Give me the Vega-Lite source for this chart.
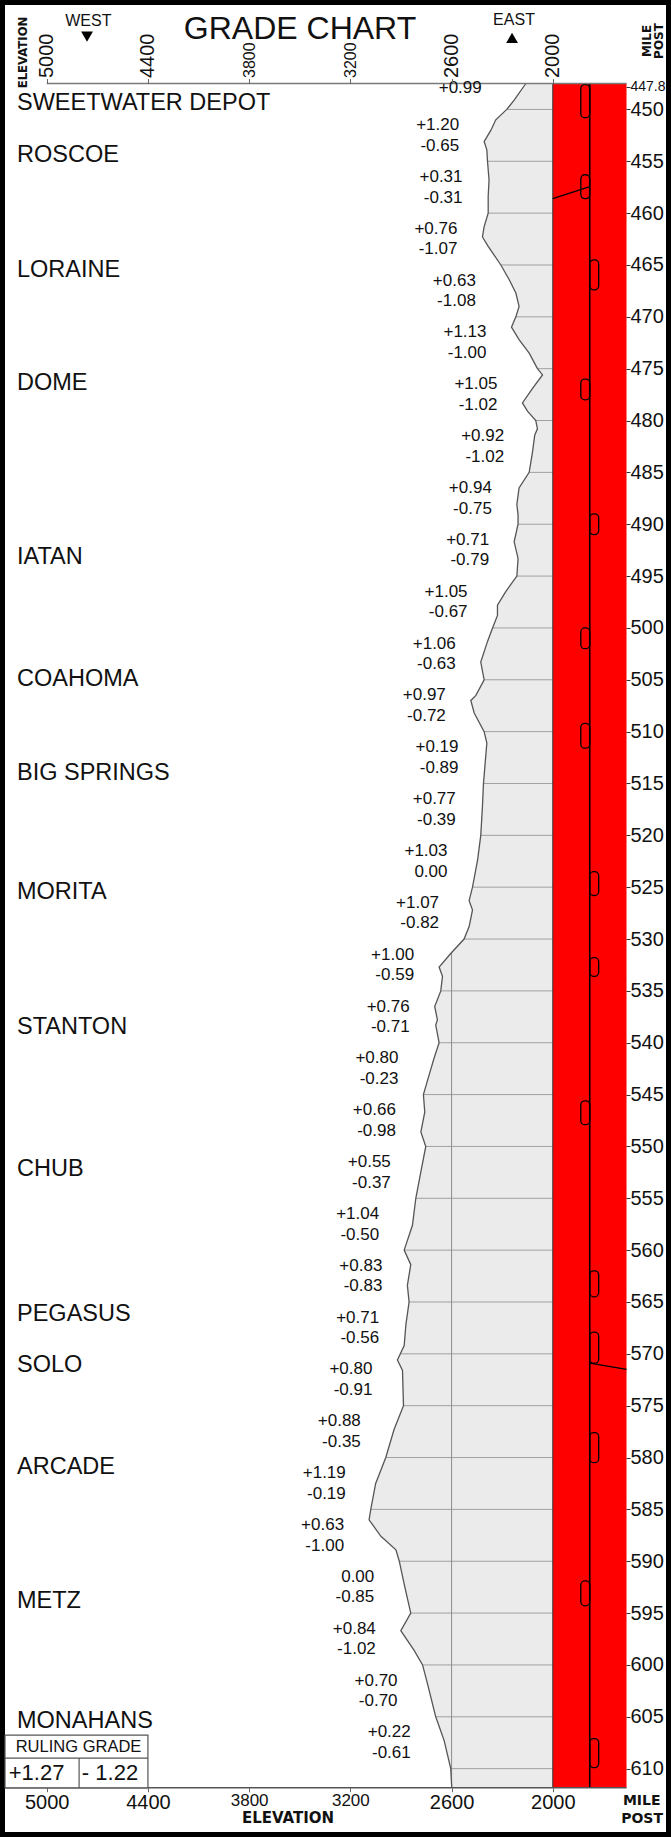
{
"$schema": "https://vega.github.io/schema/vega-lite/v6.json",
"width": 661, "height": 1827, "padding": 5, "autosize": {"type": "none"},
"background": "#000000",
"config": {"view": {"fill": "#ffffff", "stroke": null}, "font": "Liberation Sans", "text": {"color": "#111111"}},
"resolve": {"axis": {"x": "independent", "y": "independent"}},
"datasets": {
"profile": [
{"mile":447.5,"elev":2160},{"mile":449.1,"elev":2229},{"mile":450,"elev":2273},{"mile":451.0,"elev":2338},{"mile":452.0,"elev":2367},{"mile":453.1,"elev":2407},{"mile":453.9,"elev":2391},{"mile":455,"elev":2387},{"mile":456.8,"elev":2378},{"mile":458.4,"elev":2383},{"mile":460,"elev":2383},{"mile":461.3,"elev":2407},{"mile":462.3,"elev":2417},{"mile":463.2,"elev":2383},{"mile":465,"elev":2308},{"mile":466.4,"elev":2259},{"mile":467.7,"elev":2219},{"mile":469.0,"elev":2200},{"mile":470,"elev":2219},{"mile":471.0,"elev":2245},{"mile":472.2,"elev":2200},{"mile":473.5,"elev":2140},{"mile":475,"elev":2091},{"mile":475.6,"elev":2061},{"mile":476.9,"elev":2120},{"mile":478.3,"elev":2180},{"mile":479.1,"elev":2150},{"mile":480,"elev":2101},{"mile":480.8,"elev":2091},{"mile":481.4,"elev":2107},{"mile":483.0,"elev":2120},{"mile":485,"elev":2140},{"mile":486.5,"elev":2200},{"mile":488.1,"elev":2213},{"mile":489.1,"elev":2206},{"mile":490,"elev":2206},{"mile":491.7,"elev":2229},{"mile":493.3,"elev":2206},{"mile":495,"elev":2213},{"mile":496.5,"elev":2279},{"mile":497.8,"elev":2328},{"mile":498.8,"elev":2328},{"mile":500,"elev":2357},{"mile":501.3,"elev":2387},{"mile":503.3,"elev":2427},{"mile":505,"elev":2407},{"mile":506.5,"elev":2456},{"mile":507.0,"elev":2486},{"mile":508.2,"elev":2466},{"mile":510,"elev":2407},{"mile":511.1,"elev":2391},{"mile":515,"elev":2411},{"mile":517.2,"elev":2417},{"mile":520,"elev":2427},{"mile":522.4,"elev":2446},{"mile":525,"elev":2476},{"mile":526.3,"elev":2496},{"mile":527.2,"elev":2476},{"mile":528.8,"elev":2496},{"mile":530,"elev":2526},{"mile":531.4,"elev":2605},{"mile":532.7,"elev":2674},{"mile":533.6,"elev":2654},{"mile":535,"elev":2664},{"mile":536.5,"elev":2700},{"mile":537.8,"elev":2684},{"mile":538.3,"elev":2694},{"mile":540,"elev":2674},{"mile":541.5,"elev":2704},{"mile":543.1,"elev":2733},{"mile":545,"elev":2767},{"mile":546.7,"elev":2759},{"mile":548.6,"elev":2782},{"mile":550,"elev":2753},{"mile":552.1,"elev":2778},{"mile":555,"elev":2812},{"mile":557.6,"elev":2832},{"mile":560,"elev":2881},{"mile":561.4,"elev":2842},{"mile":563.4,"elev":2862},{"mile":565,"elev":2852},{"mile":567.2,"elev":2871},{"mile":569.2,"elev":2881},{"mile":570.6,"elev":2921},{"mile":571.6,"elev":2891},{"mile":575,"elev":2885},{"mile":577.3,"elev":2941},{"mile":580,"elev":2990},{"mile":582.5,"elev":3050},{"mile":585,"elev":3079},{"mile":586.0,"elev":3089},{"mile":587.6,"elev":3019},{"mile":588.9,"elev":2930},{"mile":590,"elev":2910},{"mile":592.2,"elev":2881},{"mile":595,"elev":2842},{"mile":596.7,"elev":2901},{"mile":598.6,"elev":2822},{"mile":600,"elev":2772},{"mile":601.8,"elev":2743},{"mile":605,"elev":2694},{"mile":607.3,"elev":2644},{"mile":610,"elev":2605},{"mile":611.85,"elev":2599}
],
"grades": [
{"from":447.8,"to":450,"mid":448.9,"up":"+0.99","down":"","summit":2273},
{"from":450,"to":455,"mid":452.5,"up":"+1.20","down":"-0.65","summit":2407},
{"from":455,"to":460,"mid":457.5,"up":"+0.31","down":"-0.31","summit":2387},
{"from":460,"to":465,"mid":462.5,"up":"+0.76","down":"-1.07","summit":2417},
{"from":465,"to":470,"mid":467.5,"up":"+0.63","down":"-1.08","summit":2308},
{"from":470,"to":475,"mid":472.5,"up":"+1.13","down":"-1.00","summit":2245},
{"from":475,"to":480,"mid":477.5,"up":"+1.05","down":"-1.02","summit":2180},
{"from":480,"to":485,"mid":482.5,"up":"+0.92","down":"-1.02","summit":2140},
{"from":485,"to":490,"mid":487.5,"up":"+0.94","down":"-0.75","summit":2213},
{"from":490,"to":495,"mid":492.5,"up":"+0.71","down":"-0.79","summit":2229},
{"from":495,"to":500,"mid":497.5,"up":"+1.05","down":"-0.67","summit":2357},
{"from":500,"to":505,"mid":502.5,"up":"+1.06","down":"-0.63","summit":2427},
{"from":505,"to":510,"mid":507.5,"up":"+0.97","down":"-0.72","summit":2486},
{"from":510,"to":515,"mid":512.5,"up":"+0.19","down":"-0.89","summit":2411},
{"from":515,"to":520,"mid":517.5,"up":"+0.77","down":"-0.39","summit":2427},
{"from":520,"to":525,"mid":522.5,"up":"+1.03","down":"0.00","summit":2476},
{"from":525,"to":530,"mid":527.5,"up":"+1.07","down":"-0.82","summit":2526},
{"from":530,"to":535,"mid":532.5,"up":"+1.00","down":"-0.59","summit":2674},
{"from":535,"to":540,"mid":537.5,"up":"+0.76","down":"-0.71","summit":2700},
{"from":540,"to":545,"mid":542.5,"up":"+0.80","down":"-0.23","summit":2767},
{"from":545,"to":550,"mid":547.5,"up":"+0.66","down":"-0.98","summit":2782},
{"from":550,"to":555,"mid":552.5,"up":"+0.55","down":"-0.37","summit":2812},
{"from":555,"to":560,"mid":557.5,"up":"+1.04","down":"-0.50","summit":2881},
{"from":560,"to":565,"mid":562.5,"up":"+0.83","down":"-0.83","summit":2862},
{"from":565,"to":570,"mid":567.5,"up":"+0.71","down":"-0.56","summit":2881},
{"from":570,"to":575,"mid":572.5,"up":"+0.80","down":"-0.91","summit":2921},
{"from":575,"to":580,"mid":577.5,"up":"+0.88","down":"-0.35","summit":2990},
{"from":580,"to":585,"mid":582.5,"up":"+1.19","down":"-0.19","summit":3079},
{"from":585,"to":590,"mid":587.5,"up":"+0.63","down":"-1.00","summit":3089},
{"from":590,"to":595,"mid":592.5,"up":"0.00","down":"-0.85","summit":2910},
{"from":595,"to":600,"mid":597.5,"up":"+0.84","down":"-1.02","summit":2901},
{"from":600,"to":605,"mid":602.5,"up":"+0.70","down":"-0.70","summit":2772},
{"from":605,"to":610,"mid":607.5,"up":"+0.22","down":"-0.61","summit":2694}
],
"stations": [
{"name":"SWEETWATER DEPOT","mile":449.4},{"name":"ROSCOE","mile":454.4},{"name":"LORAINE","mile":465.5},{"name":"DOME","mile":476.4},{"name":"IATAN","mile":493.2},{"name":"COAHOMA","mile":504.9},{"name":"BIG SPRINGS","mile":514.0},{"name":"MORITA","mile":525.5},{"name":"STANTON","mile":538.5},{"name":"CHUB","mile":552.2},{"name":"PEGASUS","mile":566.2},{"name":"SOLO","mile":571.1},{"name":"ARCADE","mile":580.9},{"name":"METZ","mile":593.8},{"name":"MONAHANS","mile":605.4}
],
"grid": [
{"mile":450},{"mile":455},{"mile":460},{"mile":465},{"mile":470},{"mile":475},{"mile":480},{"mile":485},{"mile":490},{"mile":495},{"mile":500},{"mile":505},{"mile":510},{"mile":515},{"mile":520},{"mile":525},{"mile":530},{"mile":535},{"mile":540},{"mile":545},{"mile":550},{"mile":555},{"mile":560},{"mile":565},{"mile":570},{"mile":575},{"mile":580},{"mile":585},{"mile":590},{"mile":595},{"mile":600},{"mile":605},{"mile":610}
],
"vgrid": [{"elev":4400},{"elev":3800},{"elev":3200},{"elev":2600}],
"sidings": [
{"station":"SWEETWATER DEPOT","side":"L","start":447.6,"end":450.8},
{"station":"ROSCOE","side":"L","start":456.3,"end":458.6},
{"station":"LORAINE","side":"R","start":464.5,"end":467.4},
{"station":"DOME","side":"L","start":476.0,"end":478.0},
{"station":"IATAN","side":"R","start":489.0,"end":491.0},
{"station":"COAHOMA","side":"L","start":500.0,"end":502.0},
{"station":"BIG SPRINGS","side":"L","start":509.2,"end":511.6},
{"station":"MORITA","side":"R","start":523.5,"end":525.8},
{"station":"STANTON","side":"R","start":531.8,"end":533.6},
{"station":"CHUB","side":"L","start":545.6,"end":547.9},
{"station":"PEGASUS","side":"R","start":562.0,"end":564.5},
{"station":"SOLO","side":"R","start":567.9,"end":570.9},
{"station":"ARCADE","side":"R","start":577.6,"end":580.5},
{"station":"METZ","side":"L","start":591.9,"end":594.3},
{"station":"MONAHANS","side":"R","start":607.1,"end":609.9}
],
"branches": [
{"station":"ROSCOE","side":"L","from":457.45,"to":458.6},
{"station":"SOLO","side":"R","from":570.9,"to":571.5}
]
},
"layer": [
{"data":{"name":"profile"},"mark":{"type":"area","orient":"horizontal","color":"#ebebeb"},
 "encoding":{
  "y":{"field":"mile","type":"quantitative","scale":{"domain":[439.93,616.11],"reverse":true,"nice":false,"zero":false},
   "axis":{"orient":"right","offset":-40,"values":[447.8,450,455,460,465,470,475,480,485,490,495,500,505,510,515,520,525,530,535,540,545,550,555,560,565,570,575,580,585,590,595,600,605,610],"format":".1~f","labelFontSize":{"condition":{"test":"datum.value == 447.8","value":14},"value":20},"labelColor":"#111","labelFont":"Liberation Sans","tickSize":4,"tickColor":"#333","labelPadding":0,"domain":false,"grid":false,"title":null,"labelFlush":false,"labelOverlap":false,"labelBound":false,"zindex":1}},
  "x":{"field":"elev","type":"quantitative","scale":{"domain":[1329,5247.2],"reverse":true,"nice":false,"zero":false},
   "axis":{"orient":"top","offset":-78.5,"values":[5000,4400,3800,3200,2600,2000],"format":"d","labelAngle":-90,"labelFontSize":{"condition":{"test":"datum.value == 3800 || datum.value == 3200","value":16},"value":20},"labelColor":"#111","labelFont":"Liberation Sans","tickSize":5,"tickColor":"#666","labelPadding":1,"domain":false,"grid":false,"title":null,"labelFlush":false,"labelOverlap":false,"zindex":1}},
  "x2":{"datum":2000}}},
{"data":{"name":"grid"},"mark":{"type":"rule","color":"#a0a0a0","strokeWidth":1},
 "encoding":{
  "y":{"field":"mile","type":"quantitative","scale":{"domain":[439.93,616.11],"reverse":true,"nice":false,"zero":false},"axis":null},
  "x":{"datum":5247.2,"type":"quantitative","scale":{"domain":[1329,5247.2],"reverse":true,"nice":false,"zero":false},
   "axis":{"orient":"bottom","offset":-44.3,"values":[5000,4400,3800,3200,2600,2000],"format":"d","labelAngle":0,"labelFontSize":{"condition":{"test":"datum.value == 3800 || datum.value == 3200","value":17},"value":20},"labelColor":"#111","labelFont":"Liberation Sans","tickSize":4,"tickColor":"#666","labelPadding":1,"domain":false,"grid":false,"title":null,"labelFlush":false,"labelOverlap":false,"zindex":1}},
  "x2":{"datum":2000}}},
{"data":{"name":"vgrid"},"mark":{"type":"rule","color":"#8c8c8c","strokeWidth":1},
 "encoding":{
  "x":{"field":"elev","type":"quantitative","scale":{"domain":[1329,5247.2],"reverse":true,"nice":false,"zero":false},"axis":null},
  "y":{"datum":447.5,"type":"quantitative","scale":{"domain":[439.93,616.11],"reverse":true,"nice":false,"zero":false},"axis":null},
  "y2":{"datum":611.85}}},
{"data":{"name":"profile"},"mark":{"type":"area","orient":"horizontal","color":"#ffffff"},
 "encoding":{
  "y":{"field":"mile","type":"quantitative","scale":{"domain":[439.93,616.11],"reverse":true,"nice":false,"zero":false},"axis":null},
  "x":{"field":"elev","type":"quantitative","scale":{"domain":[1329,5247.2],"reverse":true,"nice":false,"zero":false},"axis":null},
  "x2":{"datum":5247.2}}},
{"data":{"name":"profile"},"mark":{"type":"line","color":"#555555","strokeWidth":1.3},
 "encoding":{
  "y":{"field":"mile","type":"quantitative","scale":{"domain":[439.93,616.11],"reverse":true,"nice":false,"zero":false},"axis":null},
  "x":{"field":"elev","type":"quantitative","scale":{"domain":[1329,5247.2],"reverse":true,"nice":false,"zero":false},"axis":null},
  "order":{"field":"mile","type":"quantitative"}}},
{"data":{"values":[{}]},"mark":{"type":"rect","color":"#ff0000"},
 "encoding":{
  "x":{"datum":2000,"type":"quantitative","scale":{"domain":[1329,5247.2],"reverse":true,"nice":false,"zero":false},"axis":null},
  "x2":{"datum":1563},
  "y":{"datum":447.5,"type":"quantitative","scale":{"domain":[439.93,616.11],"reverse":true,"nice":false,"zero":false},"axis":null},
  "y2":{"datum":611.85}}},
{"data":{"values":[{}]},"mark":{"type":"rule","color":"#333333","strokeWidth":1},
 "encoding":{
  "x":{"datum":2000,"type":"quantitative","scale":{"domain":[1329,5247.2],"reverse":true,"nice":false,"zero":false},"axis":null},
  "y":{"datum":447.5,"type":"quantitative","scale":{"domain":[439.93,616.11],"reverse":true,"nice":false,"zero":false},"axis":null},
  "y2":{"datum":611.85}}},
{"data":{"values":[{}]},"mark":{"type":"rule","color":"#000000","strokeWidth":1.6},
 "encoding":{
  "x":{"datum":1781,"type":"quantitative","scale":{"domain":[1329,5247.2],"reverse":true,"nice":false,"zero":false},"axis":null},
  "y":{"datum":447.5,"type":"quantitative","scale":{"domain":[439.93,616.11],"reverse":true,"nice":false,"zero":false},"axis":null},
  "y2":{"datum":611.85}}},
{"data":{"name":"sidings"},"transform":[{"filter":"datum.side == 'L'"}],"mark":{"type":"rect","filled":false,"color":"#000000","strokeWidth":1.3,"cornerRadius":4},
 "encoding":{
  "x":{"datum":1781,"type":"quantitative","scale":{"domain":[1329,5247.2],"reverse":true,"nice":false,"zero":false},"axis":null},
  "x2":{"datum":1834},
  "y":{"field":"start","type":"quantitative","scale":{"domain":[439.93,616.11],"reverse":true,"nice":false,"zero":false},"axis":null},
  "y2":{"field":"end"}}},
{"data":{"name":"sidings"},"transform":[{"filter":"datum.side == 'R'"}],"mark":{"type":"rect","filled":false,"color":"#000000","strokeWidth":1.3,"cornerRadius":4},
 "encoding":{
  "x":{"datum":1781,"type":"quantitative","scale":{"domain":[1329,5247.2],"reverse":true,"nice":false,"zero":false},"axis":null},
  "x2":{"datum":1728},
  "y":{"field":"start","type":"quantitative","scale":{"domain":[439.93,616.11],"reverse":true,"nice":false,"zero":false},"axis":null},
  "y2":{"field":"end"}}},
{"data":{"name":"branches"},"transform":[{"filter":"datum.side == 'L'"}],"mark":{"type":"rule","color":"#000000","strokeWidth":1.3},
 "encoding":{
  "x":{"datum":1781,"type":"quantitative","scale":{"domain":[1329,5247.2],"reverse":true,"nice":false,"zero":false},"axis":null},
  "x2":{"datum":2000},
  "y":{"field":"from","type":"quantitative","scale":{"domain":[439.93,616.11],"reverse":true,"nice":false,"zero":false},"axis":null},
  "y2":{"field":"to"}}},
{"data":{"name":"branches"},"transform":[{"filter":"datum.side == 'R'"}],"mark":{"type":"rule","color":"#000000","strokeWidth":1.3},
 "encoding":{
  "x":{"datum":1781,"type":"quantitative","scale":{"domain":[1329,5247.2],"reverse":true,"nice":false,"zero":false},"axis":null},
  "x2":{"datum":1563},
  "y":{"field":"from","type":"quantitative","scale":{"domain":[439.93,616.11],"reverse":true,"nice":false,"zero":false},"axis":null},
  "y2":{"field":"to"}}},
{"data":{"values":[{}]},"mark":{"type":"rule","color":"#7a7a7a","strokeWidth":1.5},
 "encoding":{
  "x":{"datum":5000,"type":"quantitative","scale":{"domain":[1329,5247.2],"reverse":true,"nice":false,"zero":false},"axis":null},
  "x2":{"datum":1563},
  "y":{"datum":447.5,"type":"quantitative","scale":{"domain":[439.93,616.11],"reverse":true,"nice":false,"zero":false},"axis":null}}},
{"data":{"values":[{}]},"mark":{"type":"rule","color":"#555555","strokeWidth":1.5},
 "encoding":{
  "x":{"datum":5247.2,"type":"quantitative","scale":{"domain":[1329,5247.2],"reverse":true,"nice":false,"zero":false},"axis":null},
  "x2":{"datum":1563},
  "y":{"datum":611.85,"type":"quantitative","scale":{"domain":[439.93,616.11],"reverse":true,"nice":false,"zero":false},"axis":null}}},
{"data":{"name":"stations"},"mark":{"type":"text","align":"left","baseline":"middle","fontSize":23.5,"font":"Liberation Sans"},
 "encoding":{
  "x":{"datum":5176,"type":"quantitative","scale":{"domain":[1329,5247.2],"reverse":true,"nice":false,"zero":false},"axis":null},
  "y":{"field":"mile","type":"quantitative","scale":{"domain":[439.93,616.11],"reverse":true,"nice":false,"zero":false},"axis":null},
  "text":{"field":"name","type":"nominal"}}},
{"data":{"name":"grades"},"mark":{"type":"text","align":"right","baseline":"middle","fontSize":17,"dx":-25,"dy":-10.3,"font":"Liberation Sans"},
 "encoding":{
  "x":{"field":"summit","type":"quantitative","scale":{"domain":[1329,5247.2],"reverse":true,"nice":false,"zero":false},"axis":null},
  "y":{"field":"mid","type":"quantitative","scale":{"domain":[439.93,616.11],"reverse":true,"nice":false,"zero":false},"axis":null},
  "text":{"field":"up","type":"nominal"}}},
{"data":{"name":"grades"},"mark":{"type":"text","align":"right","baseline":"middle","fontSize":17,"dx":-25,"dy":10.3,"font":"Liberation Sans"},
 "encoding":{
  "x":{"field":"summit","type":"quantitative","scale":{"domain":[1329,5247.2],"reverse":true,"nice":false,"zero":false},"axis":null},
  "y":{"field":"mid","type":"quantitative","scale":{"domain":[439.93,616.11],"reverse":true,"nice":false,"zero":false},"axis":null},
  "text":{"field":"down","type":"nominal"}}},
{"data":{"values":[{}]},"mark":{"type":"rect","fill":"#ffffff","stroke":"#555555","strokeWidth":1.2},
 "encoding":{
  "x":{"datum":5247.2,"type":"quantitative","scale":{"domain":[1329,5247.2],"reverse":true,"nice":false,"zero":false},"axis":null},
  "x2":{"datum":4400},
  "y":{"datum":606.76,"type":"quantitative","scale":{"domain":[439.93,616.11],"reverse":true,"nice":false,"zero":false},"axis":null},
  "y2":{"datum":611.85}}},
{"data":{"values":[{}]},"mark":{"type":"rule","color":"#555555","strokeWidth":1.2},
 "encoding":{
  "x":{"datum":5247.2,"type":"quantitative","scale":{"domain":[1329,5247.2],"reverse":true,"nice":false,"zero":false},"axis":null},
  "x2":{"datum":4400},
  "y":{"datum":608.98,"type":"quantitative","scale":{"domain":[439.93,616.11],"reverse":true,"nice":false,"zero":false},"axis":null}}},
{"data":{"values":[{}]},"mark":{"type":"rule","color":"#555555","strokeWidth":1.2},
 "encoding":{
  "x":{"datum":4808,"type":"quantitative","scale":{"domain":[1329,5247.2],"reverse":true,"nice":false,"zero":false},"axis":null},
  "y":{"datum":608.98,"type":"quantitative","scale":{"domain":[439.93,616.11],"reverse":true,"nice":false,"zero":false},"axis":null},
  "y2":{"datum":611.85}}},
{"data":{"values":[{}]},"mark":{"type":"text","text":"RULING GRADE","fontSize":16.5,"align":"center","baseline":"middle"},
 "encoding":{
  "x":{"datum":4811.5,"type":"quantitative","scale":{"domain":[1329,5247.2],"reverse":true,"nice":false,"zero":false},"axis":null},
  "y":{"datum":607.87,"type":"quantitative","scale":{"domain":[439.93,616.11],"reverse":true,"nice":false,"zero":false},"axis":null}}},
{"data":{"values":[{}]},"mark":{"type":"text","text":"+1.27","fontSize":22,"align":"center","baseline":"middle"},
 "encoding":{
  "x":{"datum":5060,"type":"quantitative","scale":{"domain":[1329,5247.2],"reverse":true,"nice":false,"zero":false},"axis":null},
  "y":{"datum":610.4,"type":"quantitative","scale":{"domain":[439.93,616.11],"reverse":true,"nice":false,"zero":false},"axis":null}}},
{"data":{"values":[{}]},"mark":{"type":"text","text":"- 1.22","fontSize":22,"align":"center","baseline":"middle"},
 "encoding":{
  "x":{"datum":4624.8,"type":"quantitative","scale":{"domain":[1329,5247.2],"reverse":true,"nice":false,"zero":false},"axis":null},
  "y":{"datum":610.4,"type":"quantitative","scale":{"domain":[439.93,616.11],"reverse":true,"nice":false,"zero":false},"axis":null}}},
{"data":{"values":[{}]},"mark":{"type":"text","text":"ELEVATION","fontSize":13,"fontWeight":"bold","angle":270,"align":"center","baseline":"middle","font":"Liberation Sans Narrow, DejaVu Sans Condensed, sans-serif"},
 "encoding":{
  "x":{"datum":5140.5,"type":"quantitative","scale":{"domain":[1329,5247.2],"reverse":true,"nice":false,"zero":false},"axis":null},
  "y":{"datum":444.51,"type":"quantitative","scale":{"domain":[439.93,616.11],"reverse":true,"nice":false,"zero":false},"axis":null}}},
{"data":{"values":[{}]},"mark":{"type":"text","text":"WEST","fontSize":16,"align":"center","baseline":"middle"},
 "encoding":{
  "x":{"datum":4753.4,"type":"quantitative","scale":{"domain":[1329,5247.2],"reverse":true,"nice":false,"zero":false},"axis":null},
  "y":{"datum":441.47,"type":"quantitative","scale":{"domain":[439.93,616.11],"reverse":true,"nice":false,"zero":false},"axis":null}}},
{"data":{"values":[{}]},"mark":{"type":"point","shape":"triangle-down","filled":true,"size":140,"color":"#000000","opacity":1},
 "encoding":{
  "x":{"datum":4761,"type":"quantitative","scale":{"domain":[1329,5247.2],"reverse":true,"nice":false,"zero":false},"axis":null},
  "y":{"datum":442.97,"type":"quantitative","scale":{"domain":[439.93,616.11],"reverse":true,"nice":false,"zero":false},"axis":null}}},
{"data":{"values":[{}]},"mark":{"type":"text","text":"GRADE CHART","fontSize":32,"align":"center","baseline":"middle"},
 "encoding":{
  "x":{"datum":3498.5,"type":"quantitative","scale":{"domain":[1329,5247.2],"reverse":true,"nice":false,"zero":false},"axis":null},
  "y":{"datum":442.2,"type":"quantitative","scale":{"domain":[439.93,616.11],"reverse":true,"nice":false,"zero":false},"axis":null}}},
{"data":{"values":[{}]},"mark":{"type":"text","text":"EAST","fontSize":16,"align":"center","baseline":"middle"},
 "encoding":{
  "x":{"datum":2230,"type":"quantitative","scale":{"domain":[1329,5247.2],"reverse":true,"nice":false,"zero":false},"axis":null},
  "y":{"datum":441.38,"type":"quantitative","scale":{"domain":[439.93,616.11],"reverse":true,"nice":false,"zero":false},"axis":null}}},
{"data":{"values":[{}]},"mark":{"type":"point","shape":"triangle-up","filled":true,"size":140,"color":"#000000","opacity":1},
 "encoding":{
  "x":{"datum":2241.6,"type":"quantitative","scale":{"domain":[1329,5247.2],"reverse":true,"nice":false,"zero":false},"axis":null},
  "y":{"datum":443.11,"type":"quantitative","scale":{"domain":[439.93,616.11],"reverse":true,"nice":false,"zero":false},"axis":null}}},
{"data":{"values":[{}]},"mark":{"type":"text","text":"MILE","fontSize":12,"fontWeight":"bold","angle":270,"align":"center","baseline":"middle","font":"DejaVu Sans"},
 "encoding":{
  "x":{"datum":1441.6,"type":"quantitative","scale":{"domain":[1329,5247.2],"reverse":true,"nice":false,"zero":false},"axis":null},
  "y":{"datum":443.4,"type":"quantitative","scale":{"domain":[439.93,616.11],"reverse":true,"nice":false,"zero":false},"axis":null}}},
{"data":{"values":[{}]},"mark":{"type":"text","text":"POST","fontSize":12,"fontWeight":"bold","angle":270,"align":"center","baseline":"middle","font":"DejaVu Sans"},
 "encoding":{
  "x":{"datum":1370.5,"type":"quantitative","scale":{"domain":[1329,5247.2],"reverse":true,"nice":false,"zero":false},"axis":null},
  "y":{"datum":443.4,"type":"quantitative","scale":{"domain":[439.93,616.11],"reverse":true,"nice":false,"zero":false},"axis":null}}},
{"data":{"values":[{}]},"mark":{"type":"text","text":"ELEVATION","fontSize":15,"fontWeight":"bold","align":"center","baseline":"middle","font":"DejaVu Sans"},
 "encoding":{
  "x":{"datum":3569.7,"type":"quantitative","scale":{"domain":[1329,5247.2],"reverse":true,"nice":false,"zero":false},"axis":null},
  "y":{"datum":614.76,"type":"quantitative","scale":{"domain":[439.93,616.11],"reverse":true,"nice":false,"zero":false},"axis":null}}},
{"data":{"values":[{}]},"mark":{"type":"text","text":"MILE","fontSize":14,"fontWeight":"bold","align":"center","baseline":"middle","font":"DejaVu Sans"},
 "encoding":{
  "x":{"datum":1473,"type":"quantitative","scale":{"domain":[1329,5247.2],"reverse":true,"nice":false,"zero":false},"axis":null},
  "y":{"datum":613.12,"type":"quantitative","scale":{"domain":[439.93,616.11],"reverse":true,"nice":false,"zero":false},"axis":null}}},
{"data":{"values":[{}]},"mark":{"type":"text","text":"POST","fontSize":14,"fontWeight":"bold","align":"center","baseline":"middle","font":"DejaVu Sans"},
 "encoding":{
  "x":{"datum":1471,"type":"quantitative","scale":{"domain":[1329,5247.2],"reverse":true,"nice":false,"zero":false},"axis":null},
  "y":{"datum":614.86,"type":"quantitative","scale":{"domain":[439.93,616.11],"reverse":true,"nice":false,"zero":false},"axis":null}}}
]
}
